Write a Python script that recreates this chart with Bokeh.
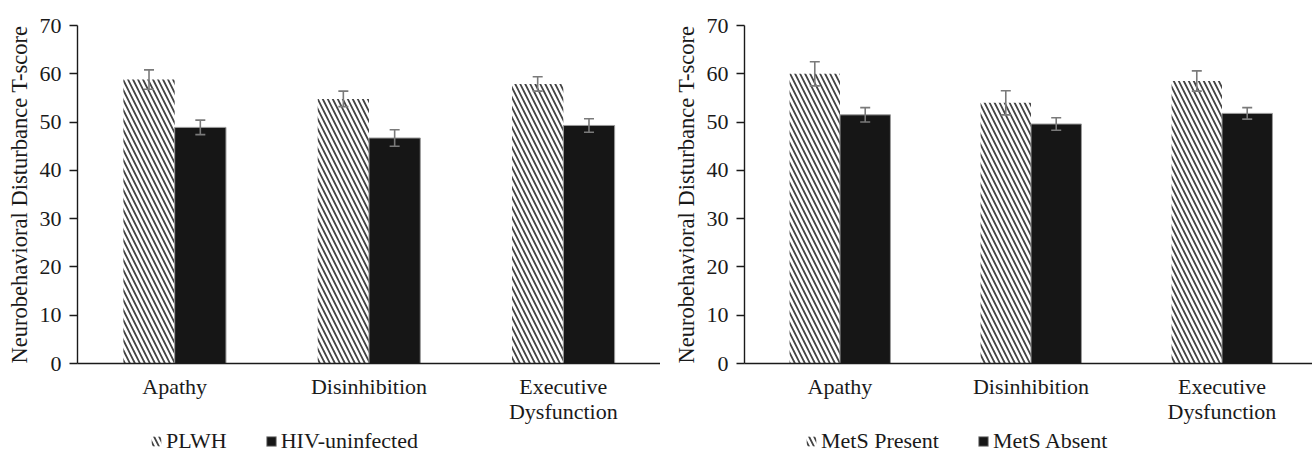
from bokeh.plotting import figure
from bokeh.models import (ColumnDataSource, Whisker, TeeHead, Legend, LegendItem,
                          Range1d, FixedTicker)
from bokeh.layouts import row, column
from bokeh.embed import file_html
from bokeh.resources import INLINE

categories = ["Apathy", "Disinhibition", "Executive\nDysfunction"]

plwh = [58.8, 54.8, 57.9]
plwh_err = [2.0, 1.6, 1.5]
hiv_uninfected = [48.9, 46.7, 49.3]
hiv_uninfected_err = [1.5, 1.7, 1.4]

mets_present = [60.0, 54.0, 58.5]
mets_present_err = [2.5, 2.5, 2.1]
mets_absent = [51.5, 49.6, 51.8]
mets_absent_err = [1.5, 1.3, 1.2]

y_ticks = [0, 10, 20, 30, 40, 50, 60, 70]

FONT = "Liberation Serif"
TXT = "#1a1a1a"
OFF = 0.132
BW = 0.264

HATCH = dict(fill_color="white", line_color=None, hatch_pattern="\\",
             hatch_color="#222222", hatch_weight=1.8, hatch_scale=10, hatch_alpha=0.85)
SOLID = dict(fill_color="#161616", line_color="#9a9a9a", line_width=1)


def make_panel(vals_a, err_a, vals_b, err_b, label_a, label_b,
               width, border_left, x_end, legend_x):
    p = figure(width=width, height=427, output_backend="svg", toolbar_location=None,
               x_range=Range1d(0, x_end), y_range=Range1d(0, 70))
    p.min_border_left = border_left
    p.min_border_right = 0
    p.min_border_top = 25
    p.min_border_bottom = 64
    p.outline_line_color = None
    p.xgrid.visible = False
    p.ygrid.visible = False

    centers = [i + 0.5 for i in range(len(categories))]
    xa = [c - OFF for c in centers]
    xb = [c + OFF for c in centers]
    src_a = ColumnDataSource(dict(x=xa, top=vals_a,
                                  lo=[v - e for v, e in zip(vals_a, err_a)],
                                  hi=[v + e for v, e in zip(vals_a, err_a)]))
    src_b = ColumnDataSource(dict(x=xb, top=vals_b,
                                  lo=[v - e for v, e in zip(vals_b, err_b)],
                                  hi=[v + e for v, e in zip(vals_b, err_b)]))

    p.vbar(x="x", top="top", width=BW, source=src_a, **HATCH)
    p.vbar(x="x", top="top", width=BW, source=src_b, **SOLID)

    for src in (src_a, src_b):
        w = Whisker(base="x", lower="lo", upper="hi", source=src, level="overlay",
                    line_color="#7a7a7a", line_width=1.6,
                    lower_head=TeeHead(size=10, line_color="#7a7a7a", line_width=1.6),
                    upper_head=TeeHead(size=10, line_color="#7a7a7a", line_width=1.6))
        p.add_layout(w)

    p.xaxis.ticker = FixedTicker(ticks=centers)
    p.xaxis.major_label_overrides = {c: lab for c, lab in zip(centers, categories)}
    p.xaxis.major_tick_line_color = None
    p.xaxis.minor_tick_line_color = None
    p.xaxis.axis_line_color = "#1a1a1a"
    p.xaxis.axis_line_width = 1.4
    p.xaxis.major_label_text_font = FONT
    p.xaxis.major_label_text_font_size = "22px"
    p.xaxis.major_label_text_color = TXT
    p.xaxis.major_label_text_line_height = 1.0
    p.xaxis.major_label_standoff = 4

    p.yaxis.ticker = FixedTicker(ticks=y_ticks)
    p.yaxis.minor_tick_line_color = None
    p.yaxis.major_tick_out = 8
    p.yaxis.major_tick_in = 0
    p.yaxis.major_tick_line_color = "#1a1a1a"
    p.yaxis.major_tick_line_width = 1.4
    p.yaxis.axis_line_color = "#1a1a1a"
    p.yaxis.axis_line_width = 1.4
    p.yaxis.major_label_text_font = FONT
    p.yaxis.major_label_text_font_size = "22px"
    p.yaxis.major_label_text_color = TXT
    p.yaxis.major_label_standoff = 8
    p.yaxis.axis_label = "Neurobehavioral Disturbance T-score"
    p.yaxis.axis_label_text_font = FONT
    p.yaxis.axis_label_text_font_style = "normal"
    p.yaxis.axis_label_text_font_size = "22.5px"
    p.yaxis.axis_label_text_color = TXT
    p.yaxis.axis_label_standoff = 5

    # legend strip: hidden copies of the same bars carry the legend swatches
    lg = figure(width=width, height=27, output_backend="svg", toolbar_location=None,
                x_range=Range1d(0, x_end), y_range=Range1d(0, 70),
                x_axis_location=None, y_axis_location=None)
    lg.min_border_left = border_left
    lg.min_border_right = 0
    lg.min_border_top = 0
    lg.min_border_bottom = 0
    lg.grid.visible = False
    lg.outline_line_color = None
    ea = lg.vbar(x="x", top="top", width=BW, source=src_a, visible=False, **HATCH)
    eb = lg.vbar(x="x", top="top", width=BW, source=src_b, visible=False, **SOLID)
    legend = Legend(items=[LegendItem(label=label_a, renderers=[ea], index=0),
                           LegendItem(label=label_b, renderers=[eb], index=0)],
                    orientation="horizontal", location=(legend_x, 0),
                    padding=0, margin=0, spacing=38,
                    glyph_width=12, glyph_height=12, label_standoff=4,
                    label_text_font=FONT, label_text_font_size="22px",
                    label_text_color=TXT, border_line_color=None,
                    background_fill_alpha=0, inactive_fill_alpha=0)
    lg.add_layout(legend)
    return column(p, lg, spacing=0)


left = make_panel(plwh, plwh_err, hiv_uninfected, hiv_uninfected_err,
                  "PLWH", "HIV-uninfected", width=660, border_left=77,
                  x_end=576 / 192, legend_x=73)
right = make_panel(mets_present, mets_present_err, mets_absent, mets_absent_err,
                   "MetS Present", "MetS Absent", width=652, border_left=84,
                   x_end=568 / 191, legend_x=61)

layout = row(left, right, spacing=0)
open("out.html", "w").write(file_html(layout, INLINE))
